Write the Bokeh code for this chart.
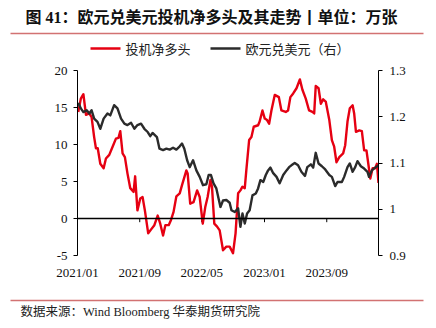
from datetime import datetime
from bokeh.plotting import figure
from bokeh.layouts import column, row
from bokeh.models import (Range1d, LinearAxis, FixedTicker, Span, CustomJSTickFormatter,
                          ColumnDataSource)
from bokeh.core.properties import value
from bokeh.embed import file_html
from bokeh.resources import INLINE

# ---------------- data ----------------
net_long_dates = [
    "2021-01-04", "2021-01-14", "2021-01-24", "2021-02-03", "2021-02-16", "2021-02-25", "2021-03-07",
    "2021-03-14", "2021-03-21", "2021-03-31", "2021-04-13", "2021-04-22", "2021-05-05", "2021-05-18",
    "2021-05-31", "2021-06-10", "2021-06-17", "2021-06-26", "2021-07-05", "2021-07-15", "2021-07-26",
    "2021-08-08", "2021-08-14", "2021-08-23", "2021-09-03", "2021-09-12", "2021-09-21", "2021-10-04",
    "2021-10-17", "2021-10-28", "2021-11-10", "2021-11-20", "2021-12-01", "2021-12-10", "2021-12-23",
    "2022-01-01", "2022-01-11", "2022-01-22", "2022-02-04", "2022-02-13", "2022-03-02", "2022-03-07",
    "2022-03-17", "2022-03-30", "2022-04-13", "2022-04-23", "2022-05-05", "2022-05-15", "2022-05-24",
    "2022-06-04", "2022-06-10", "2022-06-19", "2022-06-30", "2022-07-10", "2022-07-23", "2022-08-05",
    "2022-08-18", "2022-08-31", "2022-09-10", "2022-09-20", "2022-09-29", "2022-10-07", "2022-10-16",
    "2022-10-22", "2022-11-02", "2022-11-11", "2022-11-20", "2022-12-07", "2022-12-13", "2022-12-24",
    "2023-01-02", "2023-01-11", "2023-01-19", "2023-01-28", "2023-02-10", "2023-02-26", "2023-03-08",
    "2023-03-25", "2023-04-03", "2023-04-12", "2023-04-23", "2023-05-06", "2023-05-19", "2023-05-29",
    "2023-06-11", "2023-06-24", "2023-07-07", "2023-07-14", "2023-07-20", "2023-07-31", "2023-08-09",
    "2023-08-18", "2023-08-28", "2023-09-11", "2023-09-21", "2023-09-30", "2023-10-09", "2023-10-20",
    "2023-11-04", "2023-11-12", "2023-11-21", "2023-11-30", "2023-12-11", "2023-12-17", "2023-12-24",
    "2024-01-06", "2024-01-16", "2024-01-25", "2024-02-03", "2024-02-11", "2024-02-18", "2024-02-27",
    "2024-03-08", "2024-03-15", "2024-03-21",
]
net_long = [
    14.4, 16.2, 16.8, 14.0, 14.2, 13.7, 11.0,
    9.5, 9.5, 7.4, 6.8, 8.1, 8.6, 9.7,
    10.8, 10.9, 11.8, 8.8, 8.3, 6.1, 4.1,
    3.6, 5.7, 1.1, 2.7, 2.9, 1.1, -2.0,
    -1.4, -0.9, 0.4, -0.7, -2.3, -0.9, -0.9,
    -0.2, 0.9, 3.0, 3.4, 4.5, 6.5, 6.1,
    2.0, 2.2, 3.8, 2.9, -0.7, 1.6, 2.9,
    5.2, 4.3, -0.7, -1.1, -1.6, -4.3, -3.8,
    -3.8, -4.7, -2.0, 3.4, 3.8, 4.3, 4.1,
    6.5, 10.6, 11.0, 12.4, 12.6, 13.1, 14.6,
    13.5, 13.3, 12.8, 14.6, 16.7, 16.4, 14.6,
    14.4, 14.6, 16.4, 16.9, 17.6, 18.8, 17.4,
    16.2, 14.6, 14.4, 14.2, 17.9, 17.6, 15.5,
    16.1, 15.8, 13.3, 10.6, 9.7, 7.6, 8.3,
    8.8, 9.9, 13.1, 14.9, 15.3, 14.2, 11.7,
    11.9, 11.8, 9.2, 9.2, 7.2, 5.4, 6.8,
    6.8, 7.4, 4.8,
]

eurusd_dates = [
    "2021-01-04", "2021-01-14", "2021-01-24", "2021-02-06", "2021-02-16", "2021-02-25", "2021-03-07",
    "2021-03-20", "2021-03-31", "2021-04-13", "2021-04-28", "2021-05-09", "2021-05-24", "2021-06-06",
    "2021-06-20", "2021-07-03", "2021-07-15", "2021-07-29", "2021-08-11", "2021-08-23", "2021-09-06",
    "2021-09-19", "2021-10-02", "2021-10-12", "2021-10-21", "2021-11-07", "2021-11-17", "2021-12-01",
    "2021-12-14", "2021-12-27", "2022-01-09", "2022-01-22", "2022-02-04", "2022-02-13", "2022-02-22",
    "2022-03-05", "2022-03-15", "2022-03-28", "2022-04-10", "2022-04-23", "2022-05-06", "2022-05-19",
    "2022-05-28", "2022-06-06", "2022-06-16", "2022-06-27", "2022-07-13", "2022-07-23", "2022-08-05",
    "2022-08-18", "2022-08-25", "2022-09-07", "2022-09-20", "2022-09-29", "2022-10-07", "2022-10-16",
    "2022-10-25", "2022-11-04", "2022-11-15", "2022-11-28", "2022-12-07", "2022-12-16", "2022-12-27",
    "2023-01-06", "2023-01-15", "2023-01-24", "2023-02-04", "2023-02-17", "2023-03-01", "2023-03-15",
    "2023-03-28", "2023-04-07", "2023-04-16", "2023-04-29", "2023-05-12", "2023-05-25", "2023-06-08",
    "2023-06-17", "2023-07-01", "2023-07-10", "2023-07-20", "2023-07-31", "2023-08-13", "2023-08-26",
    "2023-09-11", "2023-09-21", "2023-10-04", "2023-10-13", "2023-10-30", "2023-11-08", "2023-11-21",
    "2023-11-30", "2023-12-11", "2023-12-21", "2023-12-30", "2024-01-12", "2024-01-25", "2024-02-07",
    "2024-02-13", "2024-02-24", "2024-03-08", "2024-03-21",
]
eurusd = [
    1.230, 1.218, 1.210, 1.214, 1.207, 1.214, 1.196,
    1.189, 1.174, 1.196, 1.207, 1.203, 1.225, 1.218,
    1.196, 1.185, 1.182, 1.187, 1.174, 1.182, 1.185,
    1.174, 1.167, 1.158, 1.165, 1.156, 1.131, 1.128,
    1.131, 1.129, 1.133, 1.129, 1.136, 1.142, 1.131,
    1.106, 1.091, 1.106, 1.084, 1.070, 1.052, 1.054,
    1.074, 1.074, 1.056, 1.045, 1.005, 1.019, 1.020,
    1.014, 0.998, 0.994, 1.002, 0.962, 0.991, 0.969,
    0.991, 0.998, 1.030, 1.034, 1.045, 1.063, 1.059,
    1.074, 1.084, 1.090, 1.078, 1.070, 1.056, 1.074,
    1.084, 1.091, 1.095, 1.100, 1.095, 1.081, 1.072,
    1.091, 1.097, 1.090, 1.122, 1.099, 1.093, 1.086,
    1.074, 1.070, 1.050, 1.059, 1.059, 1.070, 1.091,
    1.099, 1.081, 1.091, 1.104, 1.093, 1.088, 1.081,
    1.070, 1.084, 1.090, 1.095,
]

x_tick_dates = ["2021-01-01", "2021-09-01", "2022-05-01", "2023-01-01", "2023-09-01"]
x_tick_labels = ["2021/01", "2021/09", "2022/05", "2023/01", "2023/09"]
left_ticks = [-5, 0, 5, 10, 15, 20]
right_ticks = [0.9, 1.0, 1.1, 1.2, 1.3]

title_text = "图 41：欧元兑美元投机净多头及其走势丨单位：万张"
series_names = ["投机净多头", "欧元兑美元（右）"]
source_text = "数据来源：Wind Bloomberg 华泰期货研究院"

# ---------------- helpers ----------------
def to_dt(s):
    return datetime.strptime(s, "%Y-%m-%d")

def to_ms(s):
    return (to_dt(s) - datetime(1970, 1, 1)).total_seconds() * 1000.0

RED = "#e60012"
BLACK = "#2b2b2b"
RULE = "#d27272"
NUM_FONT = "Liberation Serif"
MIX_FONT = "Liberation Serif, Noto Sans CJK SC"
CJK = "Noto Sans CJK SC"
W = 436
BL, BR = 77, 58          # left / right borders of the main chart


def blank_fig(h):
    # frame covers the whole canvas; data units equal canvas pixels
    f = figure(width=W, height=h, x_range=Range1d(0, W), y_range=Range1d(h, 0),
               output_backend="svg", toolbar_location=None,
               x_axis_location=None, y_axis_location=None,
               min_border=0, min_border_left=0, min_border_right=0,
               min_border_top=0, min_border_bottom=0)
    f.outline_line_color = None
    f.xgrid.visible = False
    f.ygrid.visible = False
    return f

# ---------------- header: title, rule, legend ----------------
TOP_H = 58
head = blank_fig(TOP_H)
head.text(x=[25], y=[17], text=[title_text], text_font=value(MIX_FONT),
          text_font_size="16px", text_font_style="bold", text_baseline="middle",
          text_color="#111111")
head.segment(x0=[10], y0=[33], x1=[423], y1=[33], line_color=RULE, line_width=1.5)
head.segment(x0=[90, 210], y0=[48, 48], x1=[120, 240], y1=[48, 48],
             line_color=[RED, BLACK], line_width=2.6)
head.text(x=[125, 245], y=[48, 48], text=series_names, text_font=value(CJK),
          text_font_size="13px", text_baseline="middle", text_color="#222222")

# ---------------- main chart ----------------
MAIN_H = 232  # canvas rows 58..290
p = figure(width=W, height=MAIN_H, x_axis_type="datetime",
           x_range=Range1d(to_dt("2021-01-01"), to_dt("2024-03-21")),
           y_range=Range1d(-5, 20),
           output_backend="svg", toolbar_location=None,
           min_border_left=BL, min_border_right=BR, min_border_top=12, min_border_bottom=35)
p.extra_y_ranges = {"fx": Range1d(0.9, 1.3)}
p.outline_line_color = None
p.xgrid.grid_line_color = None
p.ygrid.grid_line_color = None

xa = p.xaxis[0]
xa.ticker = FixedTicker(ticks=[to_ms(d) for d in x_tick_dates])
xa.major_label_overrides = {to_ms(d): lab for d, lab in zip(x_tick_dates, x_tick_labels)}
xa.axis_line_color = None
xa.major_tick_line_color = None
xa.minor_tick_line_color = None
xa.major_tick_out = 0
xa.major_label_standoff = 9
xa.major_label_text_font = NUM_FONT
xa.major_label_text_font_size = "13px"
xa.major_label_text_color = "#111111"

ya = p.yaxis[0]
ya.ticker = FixedTicker(ticks=left_ticks)
ya.formatter = CustomJSTickFormatter(code="return tick.toFixed(0);")
ya.axis_line_color = "black"
ya.major_tick_line_color = "black"
ya.minor_tick_line_color = None
ya.major_tick_in = 0
ya.major_tick_out = 4
ya.major_label_standoff = 6
ya.major_label_text_font = NUM_FONT
ya.major_label_text_font_size = "13px"
ya.major_label_text_color = "#111111"

ra = LinearAxis(y_range_name="fx", ticker=FixedTicker(ticks=right_ticks),
                formatter=CustomJSTickFormatter(code="return String(Math.round(tick*10)/10);"))
ra.axis_line_color = "black"
ra.major_tick_line_color = "black"
ra.minor_tick_line_color = None
ra.major_tick_in = 0
ra.major_tick_out = 4
ra.major_label_standoff = 7
ra.major_label_text_font = NUM_FONT
ra.major_label_text_font_size = "13px"
ra.major_label_text_color = "#111111"
p.add_layout(ra, "right")

p.add_layout(Span(location=0, dimension="width", line_color="black", line_width=1.3))
tick_src = ColumnDataSource(dict(x=[to_dt(d) for d in x_tick_dates[1:]],
                                 y0=[0] * (len(x_tick_dates) - 1),
                                 y1=[-0.5] * (len(x_tick_dates) - 1)))
p.segment(x0="x", y0="y0", x1="x", y1="y1", source=tick_src, line_color="black", line_width=1)

p.line([to_dt(d) for d in net_long_dates], net_long, line_color=RED, line_width=2.4,
       line_join="round")
p.line([to_dt(d) for d in eurusd_dates], eurusd, y_range_name="fx",
       line_color=BLACK, line_width=2.4, line_join="round")

# ---------------- footer ----------------
BOT_H = 38  # canvas rows 290..328
foot = blank_fig(BOT_H)
foot.segment(x0=[10], y0=[10], x1=[423], y1=[10], line_color=RULE, line_width=1.5)
foot.text(x=[20], y=[21], text=[source_text], text_font=value(MIX_FONT),
          text_font_size="12.5px", text_baseline="middle", text_color="#222222")

# each figure wrapped in its own row so the frames are not aligned with each other
layout = column(row(head), row(p), row(foot), spacing=0)
open("out.html", "w").write(file_html(layout, INLINE))
